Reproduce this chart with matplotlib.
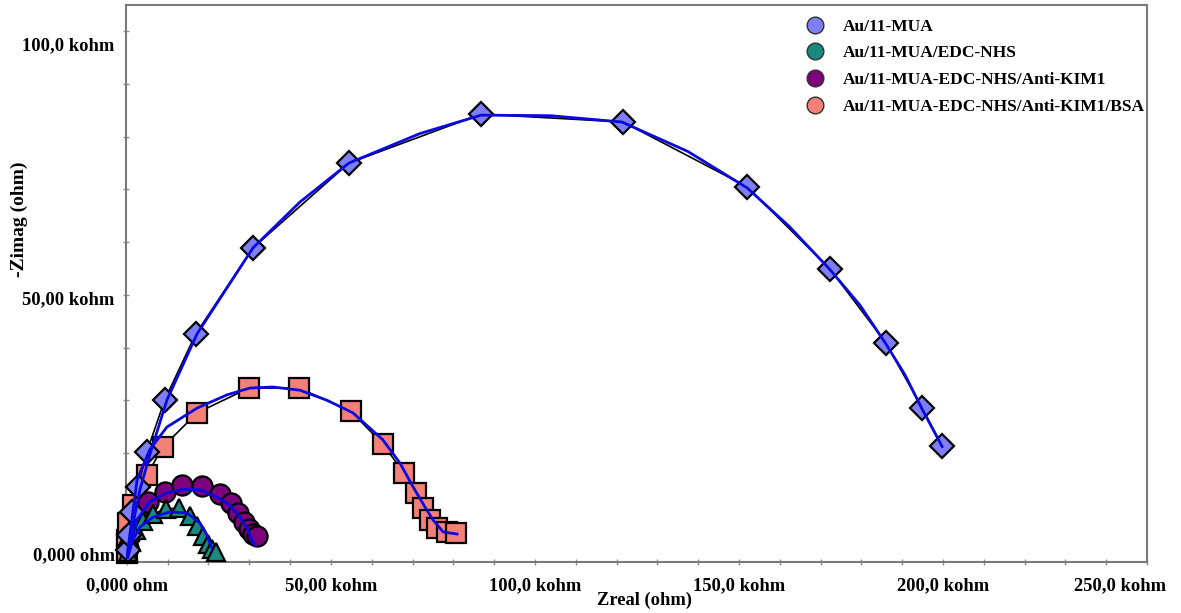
import numpy as np
import matplotlib.pyplot as plt
from matplotlib.ticker import MultipleLocator, FixedLocator, FixedFormatter
from matplotlib.lines import Line2D
from matplotlib.transforms import ScaledTranslation

# Nyquist data, kohm
mua_re = [0.2, 0.5, 1.2, 2.7, 4.9, 9.3, 16.9, 30.9, 54.4, 86.8, 121.6, 152.0, 172.3, 186.0, 194.9, 199.8]
mua_im = [1.6, 4.4, 8.8, 13.5, 20.2, 30.1, 42.6, 58.9, 75.0, 84.3, 82.8, 70.5, 54.9, 40.9, 28.5, 21.3]

edc_re = [0.2, 1.0, 2.2, 3.9, 6.4, 9.6, 12.7, 15.4, 17.2, 18.6, 19.9, 20.8, 21.8]
edc_im = [1.2, 3.1, 5.4, 7.1, 8.4, 9.4, 9.5, 8.0, 6.1, 4.2, 2.7, 1.8, 1.2]

kim_re = [0.2, 0.7, 2.5, 5.1, 9.3, 13.5, 18.4, 22.8, 25.5, 27.2, 28.7, 29.9, 30.9, 31.9]
kim_im = [1.9, 4.4, 8.2, 10.7, 12.6, 13.9, 13.7, 12.2, 10.5, 8.6, 6.9, 5.5, 4.6, 4.2]

bsa_re = [0.1, 0.1, 0.3, 1.5, 4.9, 8.8, 17.2, 29.9, 42.2, 54.9, 62.7, 67.9, 70.8, 72.5, 74.3, 76.0, 78.4, 80.6]
bsa_im = [1.0, 3.5, 6.7, 10.1, 15.8, 21.1, 27.6, 32.3, 32.3, 27.9, 21.7, 16.2, 12.4, 9.5, 7.3, 5.7, 5.0, 4.8]

# fitted curves (traced)
mua_fit_re = [0.0, 1.2, 3.2, 5.6, 9.8, 17.2, 30.9, 42.4, 54.4, 71.8, 86.8, 103.7, 121.3, 137.5, 152.0, 162.3, 172.3, 179.7, 186.0, 190.7, 194.9, 199.8]
mua_fit_im = [0.1, 5.4, 13.0, 19.6, 30.0, 42.6, 58.9, 67.6, 75.0, 80.6, 84.1, 84.0, 82.8, 77.2, 70.3, 63.0, 54.8, 48.0, 40.7, 34.8, 28.3, 21.2]

edc_fit_re = [0.2, 1.5, 3.2, 6.4, 10.5, 14.7, 17.9, 19.6, 20.8]
edc_fit_im = [0.2, 3.5, 5.9, 7.8, 8.8, 8.6, 6.7, 4.4, 2.0]

kim_fit_re = [0.2, 2.5, 5.6, 9.8, 13.7, 17.9, 22.1, 25.2, 27.7, 29.7, 30.6, 31.4]
kim_fit_im = [0.2, 7.3, 10.7, 12.4, 13.1, 13.0, 11.6, 10.1, 7.8, 5.4, 3.5, 2.5]

bsa_fit_re = [0.0, 2.5, 5.6, 9.8, 17.2, 24.5, 30.1, 35.8, 42.4, 49.0, 55.4, 62.7, 66.9, 70.1, 73.0, 75.0, 77.5, 80.9]
bsa_fit_im = [0.2, 14.9, 20.6, 24.9, 28.5, 31.0, 32.3, 32.5, 31.9, 30.0, 27.6, 22.5, 18.1, 13.6, 9.8, 7.3, 5.0, 4.6]

labels = ['Au/11-MUA', 'Au/11-MUA/EDC-NHS', 'Au/11-MUA-EDC-NHS/Anti-KIM1',
          'Au/11-MUA-EDC-NHS/Anti-KIM1/BSA']
colors = ['#7f7ff5', '#1a8a80', '#7d007d', '#f58078']

x_ticks = [0, 50, 100, 150, 200, 250]
x_tick_labels = ['0,000 ohm', '50,00 kohm', '100,0 kohm', '150,0 kohm', '200,0 kohm', '250,0 kohm']
y_ticks = [0, 50, 100]
y_tick_labels = ['0,000 ohm', '50,00 kohm', '100,0 kohm']

plt.rcParams['font.family'] = ['Liberation Serif', 'DejaVu Serif']
plt.rcParams['font.weight'] = 'bold'

fig = plt.figure(figsize=(11.81, 6.13), dpi=100)
ax = fig.add_axes([0.1064, 0.0837, 0.8648, 0.9081])

fit_col = '#0a0ae0'
kw = dict(color='black', lw=1.2, mec='black', mew=1.6, clip_on=False)
ax.plot(bsa_re, bsa_im, marker='s', ms=15, mfc=colors[3], zorder=3, **kw)
ax.plot(kim_re, kim_im, marker='o', ms=14.5, mfc=colors[2], zorder=3, **kw)
ax.plot(edc_re, edc_im, marker='^', ms=12.5, mfc=colors[1], zorder=3, **kw)
ax.plot(mua_re, mua_im, marker='D', ms=12, mfc=colors[0], zorder=3, **kw)

for fr, fi in [(bsa_fit_re, bsa_fit_im), (kim_fit_re, kim_fit_im),
               (edc_fit_re, edc_fit_im), (mua_fit_re, mua_fit_im)]:
    ax.plot(fr, fi, color=fit_col, lw=2, zorder=4, solid_joinstyle='round')

ax.set_xlim(-0.3, 250)
ax.set_ylim(-0.65, 105)

ax.xaxis.set_major_locator(FixedLocator(x_ticks))
ax.xaxis.set_major_formatter(FixedFormatter(x_tick_labels))
ax.yaxis.set_major_locator(FixedLocator(y_ticks))
ax.yaxis.set_major_formatter(FixedFormatter(y_tick_labels))
ax.xaxis.set_minor_locator(MultipleLocator(10))
ax.yaxis.set_minor_locator(MultipleLocator(10))
ax.tick_params(which='both', direction='inout', length=4, width=1, color='#909090',
               labelsize=13.3)
ax.tick_params(axis='x', pad=9)
ax.tick_params(axis='y', pad=6)
for s in ax.spines.values():
    s.set_color('#7a7a7a')
    s.set_linewidth(1.5)

# label nudges as in the screenshot (pixels)
fig.canvas.draw()
for lab, dy in zip(ax.get_yticklabels(), [5, -3, -12]):
    lab.set_transform(lab.get_transform() + ScaledTranslation(0, dy / 100, fig.dpi_scale_trans))
xl = ax.get_xticklabels()
xl[-1].set_transform(xl[-1].get_transform() + ScaledTranslation(-27 / 100, 0, fig.dpi_scale_trans))

ax.set_xlabel('Zreal (ohm)', fontsize=13.3, fontweight='bold')
ax.set_ylabel('-Zimag (ohm)', fontsize=14, fontweight='bold')
ax.xaxis.set_label_coords(0.508, -0.054)
ax.yaxis.set_label_coords(-0.096, 0.615)

handles = [Line2D([], [], ls='none', marker='o', ms=12, mfc=c, mec='#303030', mew=1)
           for c in colors]
leg = ax.legend(handles, labels, loc='upper left', bbox_to_anchor=(0.6425, 1.004),
                frameon=False, handletextpad=0.6, labelspacing=0.62,
                prop={'weight': 'bold', 'size': 12.5})

fig.savefig('out.png', dpi=100)
